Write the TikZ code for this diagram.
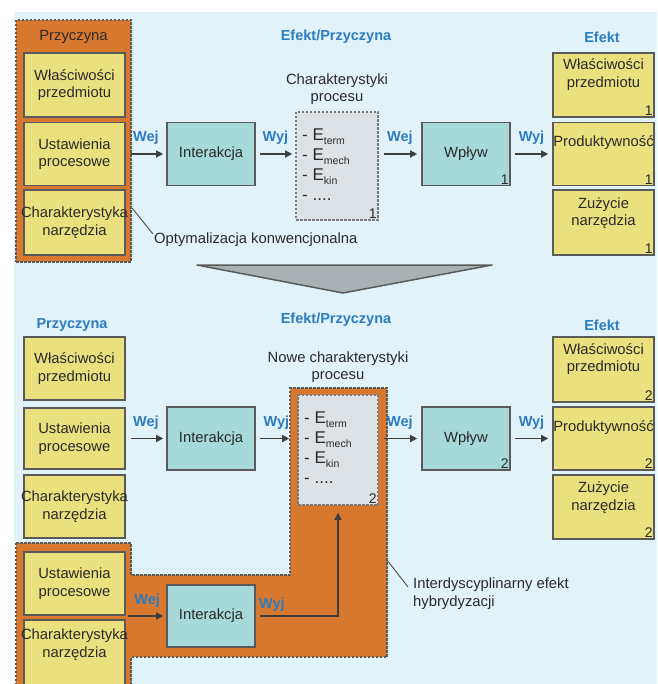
\documentclass[tikz,border=0pt]{standalone}
\usepackage{fontspec}
\setmainfont{Liberation Sans}
\usetikzlibrary{arrows.meta}
\definecolor{bgblue}{HTML}{E2F2F9}
\definecolor{orng}{HTML}{D8782F}
\definecolor{yel}{HTML}{EBE07E}
\definecolor{teal2}{HTML}{A6D9D8}
\definecolor{gbox}{HTML}{DCE2E5}
\definecolor{bord}{HTML}{5A5A5A}
\definecolor{blu}{HTML}{2C7CBF}
\definecolor{txt}{HTML}{2A2A2A}
\definecolor{tri}{HTML}{A9B1B5}
\newcommand\Esub[1]{E\raisebox{-0.45ex}{\fontsize{10.5}{10.5}\selectfont #1}}
\newcommand\fitw[1]{\makebox[101pt][c]{#1}}
\begin{document}
\begin{tikzpicture}[x=1pt,y=-1pt,
  base/.style={font=\fontsize{14.8}{17.5}\selectfont, text=txt},
  ybox/.style={base, draw=bord, line width=1.6pt, fill=yel, minimum width=101pt, inner sep=0pt, align=center},
  tbox/.style={base, draw=bord, line width=1.6pt, fill=teal2, minimum width=88pt, minimum height=63pt, inner sep=0pt},
  gdash/.style={draw=bord!80, line width=1.6pt, dash pattern=on 2.5pt off 1.5pt, fill=gbox, inner sep=0pt},
  odash/.style={draw=bord, line width=1.6pt, dash pattern=on 2.5pt off 1.5pt, fill=orng},
  lab/.style={font=\bfseries\fontsize{14.5}{17}\selectfont, text=blu},
  arr/.style={-{Triangle[length=7pt,width=7pt]}, line width=1.4pt, draw=bord!70!black},
  num/.style={font=\fontsize{14}{14}\selectfont, text=txt, inner sep=2pt, anchor=south east},
  elist/.style={font=\fontsize{17}{20}\selectfont, text=txt, align=left, anchor=west, inner sep=0pt},
  leader/.style={draw=bord, line width=1pt},
]
\useasboundingbox (0,0) rectangle (657,684);
\fill[white] (0,0) rectangle (657,684);
\fill[bgblue] (14,12) rectangle (657,684);
\clip (0,0) rectangle (657,684);

% ---------- top section ----------
\node[odash, minimum width=115pt, minimum height=242pt, inner sep=0pt] (otop) at (73.5,141) {};
\node[base] (ptop) at (73.5,37) {Przyczyna};
\node[ybox, minimum height=64pt] (wl1) at (74.5,85) {Właściwości\\przedmiotu};
\node[ybox, minimum height=63pt] (us1) at (74.5,154) {Ustawienia\\procesowe};
\node[ybox, minimum height=65pt] (ch1) at (74.5,222.5) {\fitw{Charakterystyka}\\narzędzia};

\node[tbox] (in1) at (211,154) {Interakcja};
\node[base, align=center] (cht) at (337,89) {Charakterystyki\\procesu};
\node[gdash, minimum width=82pt, minimum height=108pt] (e1) at (337,166) {};
\node[elist] (l1) at (302,165) {- \Esub{term}\\- \Esub{mech}\\- \Esub{kin}\\- ....};
\node[num] (n1) at (e1.south east) {1};
\node[tbox] (wp1) at (466,154) {Wpływ};
\node[num] (n2) at (wp1.south east) {1};

\node[ybox, minimum height=64pt] (rw1) at (603.5,85) {Właściwości\\przedmiotu\\[6pt]};
\node[num] (n3) at (rw1.south east) {1};
\node[ybox, minimum height=63pt] (rp1) at (603.5,154) {\fitw{Produktywność}\\[8pt]};
\node[num] (n4) at (rp1.south east) {1};
\node[ybox, minimum height=65pt] (rz1) at (603.5,222.5) {Zużycie\\narzędzia\\[4pt]};
\node[num] (n5) at (rz1.south east) {1};

\node[lab] (t1) at (336,37) {Efekt/Przyczyna};
\node[lab] (t2) at (602,37) {Efekt};

\draw[arr, shorten <=5pt, shorten >=3pt] (us1.east) -- (in1.west) node[lab, midway, above=5pt] {Wej};
\draw[arr, shorten <=4pt, shorten >=3pt] (in1.east) -- (in1.east -| e1.west) node[lab, midway, above=5pt] {Wyj};
\draw[arr, shorten <=5pt, shorten >=4pt] (e1.east |- wp1.west) -- (wp1.west) node[lab, midway, above=5pt] {Wej};
\draw[arr, shorten <=4pt, shorten >=4pt] (wp1.east) -- (rp1.west) node[lab, midway, above=5pt] {Wyj};

\coordinate (c1) at (132,208);
\node[base, anchor=west, inner sep=0pt] (opt) at (154,240) {Optymalizacja konwencjonalna};
\draw[leader] (c1) -- (153,234);

% ---------- triangle ----------
\draw[fill=tri, draw=bord, line width=1.5pt, line join=round] (197,265) -- (492,265) -- (343,293) -- cycle;

% ---------- bottom section ----------
\node[lab] (t3) at (72,325) {Przyczyna};
\node[lab] (t4) at (336,320) {Efekt/Przyczyna};
\node[lab] (t5) at (602,325) {Efekt};
\node[base, align=center] (nch) at (338,367) {Nowe charakterystyki\\procesu};

\draw[odash] (16,543) -- (131,543) -- (131,575) -- (290,575) -- (290,388) -- (387,388)
  -- (387,657) -- (131,657) -- (131,700) -- (16,700) -- cycle;

\node[ybox, minimum height=63pt] (wl2) at (74.5,368.5) {Właściwości\\przedmiotu};
\node[ybox, minimum height=61pt] (us2) at (74.5,438.5) {Ustawienia\\procesowe};
\node[ybox, minimum height=63pt] (ch2) at (74.5,506.5) {\fitw{Charakterystyka}\\narzędzia};

\node[tbox] (in2) at (211,438.5) {Interakcja};
\node[gdash, minimum width=80pt, minimum height=110pt] (e2) at (338,450) {};
\node[elist] (l2) at (304,448) {- \Esub{term}\\- \Esub{mech}\\- \Esub{kin}\\- ....};
\node[num] (n6) at (e2.south east) {2};
\node[tbox] (wp2) at (466,438.5) {Wpływ};
\node[num] (n7) at (wp2.south east) {2};

\node[ybox, minimum height=65pt] (rw2) at (603.5,369.5) {Właściwości\\przedmiotu\\[6pt]};
\node[num] (n8) at (rw2.south east) {2};
\node[ybox, minimum height=63pt] (rp2) at (603.5,438.5) {\fitw{Produktywność}\\[8pt]};
\node[num] (n9) at (rp2.south east) {2};
\node[ybox, minimum height=64pt] (rz2) at (603.5,507) {Zużycie\\narzędzia\\[4pt]};
\node[num] (n10) at (rz2.south east) {2};

\draw[arr, shorten <=5pt, shorten >=3pt] (us2.east) -- (in2.west) node[lab, midway, above=5pt] {Wej};
\draw[arr, shorten <=4pt, shorten >=8pt] (in2.east) -- (in2.east -| e2.west) node[lab, midway, above=5pt] {Wyj};
\draw[arr, shorten <=5pt, shorten >=4pt] (e2.east |- wp2.west) -- (wp2.west) node[lab, midway, above=5pt] {Wej};
\draw[arr, shorten <=4pt, shorten >=4pt] (wp2.east) -- (rp2.west) node[lab, midway, above=5pt] {Wyj};

% bottom-left hybrid
\node[ybox, minimum height=63pt] (us3) at (74.5,583.5) {Ustawienia\\procesowe};
\node[ybox, minimum height=70pt] (ch3) at (74.5,655) {\fitw{Charakterystyka}\\narzędzia\\[6pt]};
\node[tbox, minimum height=62pt] (in3) at (211,616) {Interakcja};
\coordinate (wsrc) at (128,616);
\draw[arr, shorten >=3pt] (wsrc) -- (in3.west) node[lab, midway, above=4pt] {Wej};
\draw[arr, shorten <=4pt, shorten >=7pt] (in3.east) -| (e2.south);
\node[lab] (wyj3) at (272,605) {Wyj};

\coordinate (c2) at (387,560);
\coordinate (c3) at (408,587);
\draw[leader] (c2) -- (c3);
\node[base, align=left, anchor=north west, inner sep=0pt] (hyb) at (413,578) {Interdyscyplinarny efekt\\hybrydyzacji};
\end{tikzpicture}
\end{document}
